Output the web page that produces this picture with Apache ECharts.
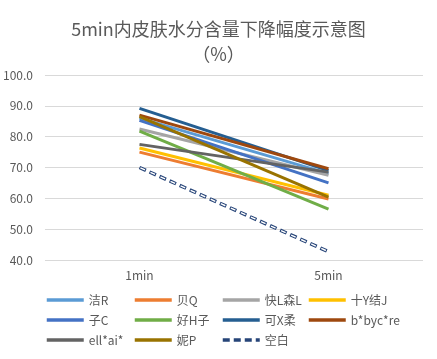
<!DOCTYPE html>
<html><head><meta charset="utf-8">
<script src="https://cdn.jsdelivr.net/npm/echarts@6/dist/echarts.min.js"></script>
<style>html,body{margin:0;padding:0;background:#fff}#c{width:437px;height:359px}</style>
</head><body><div id="c"></div>
<script>
const categories = ['1min', '5min'];
const seriesNames = ['洁R','贝Q','快L森L','十Y结J','子C','好H子','可X柔','b*byc*re','ell*ai*','妮P','空白'];
const v_jieR = [86.0, 68.0];
const v_beiQ = [75.0, 59.8];
const v_kuaiL = [82.5, 67.5];
const v_shiY = [76.3, 61.0];
const v_ziC = [85.3, 65.0];
const v_haoH = [81.8, 56.5];
const v_keX = [89.2, 69.0];
const v_bbyc = [87.0, 69.6];
const v_ellai = [77.5, 68.5];
const v_niP = [86.5, 60.4];
const v_blank = [70.0, 42.7];
const yTicks = [40, 50, 60, 70, 80, 90, 100];

const colors = ['#5B9BD5','#ED7D31','#A5A5A5','#FFC000','#4472C4','#70AD47','#255E91','#9E480E','#636363','#997300','#264478'];
const values = [v_jieR,v_beiQ,v_kuaiL,v_shiY,v_ziC,v_haoH,v_keX,v_bbyc,v_ellai,v_niP,v_blank];

const series = seriesNames.map((n,i)=>({
  name: n, type: 'line', data: values[i], symbol: 'none', color: colors[i],
  lineStyle: i === 10 ? {width: 3.5, color: colors[i], type: [7,4], cap: 'butt'} : {width: 3, color: colors[i]},
  z: i === 10 ? 3 : 2
}));
series.push({
  name: '_blankInner', type: 'line', data: v_blank, symbol: 'none', silent: true,
  lineStyle: {width: 1.4, color: '#ffffff', type: [5,6], dashOffset: -1, cap: 'butt'}, z: 4
});

const cols = [['洁R','子C','ell*ai*'],['贝Q','好H子','妮P'],['快L森L','可X柔','空白'],['十Y结J','b*byc*re']];
const colX = [45, 133, 221, 307];
const legends = cols.map((d,i)=>({
  data: d, orient: 'vertical', left: colX[i], top: 294, itemWidth: 37, itemHeight: 14, itemGap: 8,
  itemStyle: {opacity: 0},
  lineStyle: {width: 3.5},
  textStyle: {color: '#595959', fontSize: 12, fontFamily: 'Noto Sans CJK SC'}, padding: 0
}));

const chart = echarts.init(document.getElementById('c'));
chart.setOption({
  animation: false,
  backgroundColor: '#fff',
  title: {
    text: '5min内皮肤水分含量下降幅度示意图\n（%）', left: 'center', top: 12,
    textStyle: {color: '#595959', fontSize: 18, fontWeight: 'normal', lineHeight: 25, fontFamily: 'Noto Sans CJK SC', align: 'center'}
  },
  legend: legends,
  grid: {left: 44, right: 14, top: 75, bottom: 99},
  xAxis: {
    type: 'category', data: categories, boundaryGap: true,
    axisLine: {show: false}, axisTick: {show: false},
    axisLabel: {color: '#595959', fontSize: 12, margin: 9, fontFamily: 'Noto Sans CJK SC'}
  },
  yAxis: {
    type: 'value', min: yTicks[0], max: yTicks[yTicks.length-1], interval: 10,
    axisLine: {show: false}, axisTick: {show: false},
    axisLabel: {color: '#595959', fontSize: 12, margin: 12, formatter: v => v.toFixed(1), fontFamily: 'Noto Sans CJK SC'},
    splitLine: {lineStyle: {color: '#D9D9D9', width: 1}}
  },
  series: series
});
</script></body></html>
